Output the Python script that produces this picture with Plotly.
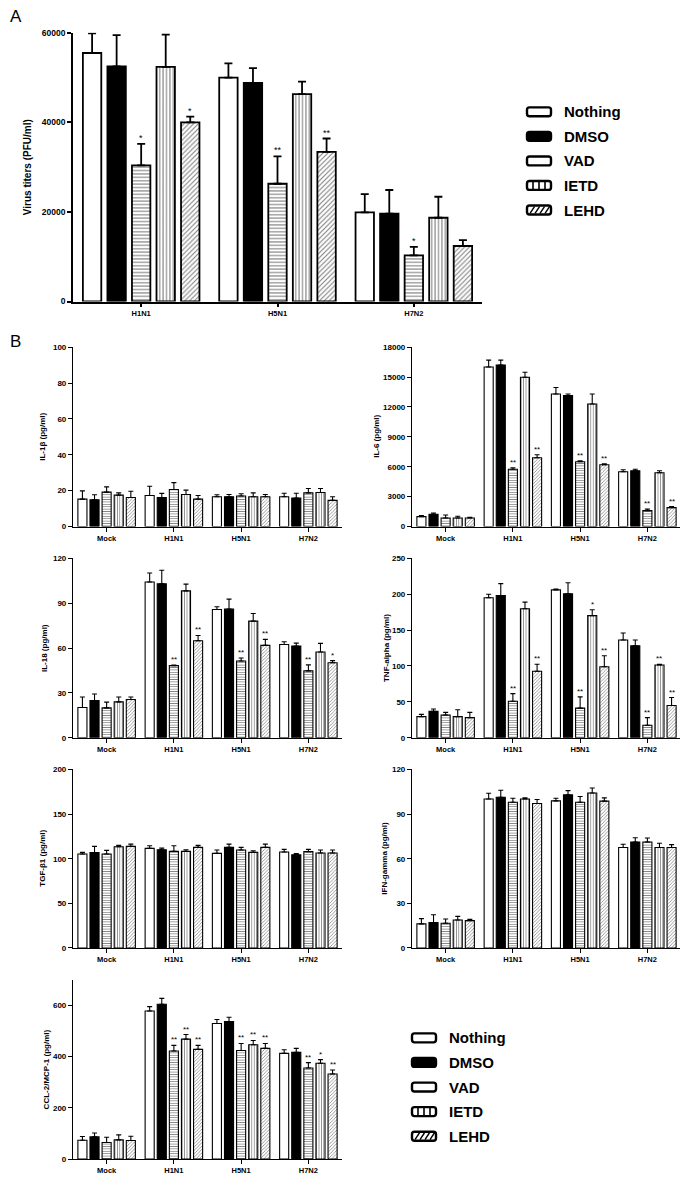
import plotly.graph_objects as go

W, H = 688, 1178          # reference canvas
OFF = 8                   # browser body margin of the rendered page
FW, FH = W - OFF, H - OFF  # figure size so that it fits the window exactly
FONT = "Liberation Sans"

treatments = ["Nothing", "DMSO", "VAD", "IETD", "LEHD"]
strains = ["H1N1", "H5N1", "H7N2"]
groups = ["Mock", "H1N1", "H5N1", "H7N2"]

# ---------- Panel A : virus titers (rows = treatments, cols = strains) ----------
titer_mean = [[55500, 50000, 19900], [52500, 48800, 19600], [30400, 26300, 10300],
              [52400, 46300, 18700], [40000, 33400, 12400]]
titer_sem = [[4400, 3200, 4100], [7000, 3300, 5300], [4800, 6100, 1900],
             [7200, 2800, 4700], [1300, 3000, 1300]]
titer_sig = [["", "", ""], ["", "", ""], ["*", "**", "*"], ["", "", ""], ["*", "**", ""]]

# ---------- Panel B (rows = treatments, cols = Mock, H1N1, H5N1, H7N2) ----------
il1b_mean = [[15.3, 17.3, 16.6, 16.6], [14.9, 16.2, 16.6, 15.9], [19.2, 20.7, 17.0, 18.8],
             [17.5, 17.9, 16.6, 19.0], [16.2, 15.3, 16.6, 14.6]]
il1b_sem = [[4.6, 5.2, 1.1, 2.0], [2.8, 2.3, 1.3, 2.7], [2.9, 3.8, 1.3, 2.4],
            [1.3, 2.4, 2.2, 2.2], [3.5, 2.0, 1.3, 2.0]]
il1b_sig = [[""] * 4] * 5

il6_mean = [[1000, 16000, 13300, 5500], [1230, 16200, 13150, 5600], [860, 5750, 6500, 1600],
            [860, 14980, 12300, 5400], [860, 6900, 6200, 1900]]
il6_sem = [[100, 700, 650, 200], [130, 500, 150, 150], [300, 150, 100, 150],
           [170, 500, 1000, 200], [70, 300, 100, 100]]
il6_sig = [["", "", "", ""], ["", "", "", ""], ["", "**", "**", "**"],
           ["", "", "", ""], ["", "**", "**", "**"]]

il18_mean = [[20.2, 104.2, 85.8, 62.4], [24.9, 102.9, 86.0, 61.3], [20.0, 48.2, 51.3, 44.7],
             [24.0, 98.2, 78.0, 57.3], [25.6, 64.9, 61.8, 50.2]]
il18_sem = [[7.1, 6.0, 1.8, 1.8], [4.4, 9.1, 6.7, 2.0], [3.8, 0.4, 2.0, 4.0],
            [3.3, 4.5, 5.1, 5.8], [1.7, 3.5, 4.0, 1.4]]
il18_sig = [["", "", "", ""], ["", "", "", ""], ["", "**", "**", "**"],
            ["", "", "", ""], ["", "**", "**", "*"]]

tnf_mean = [[29.4, 195.0, 206.0, 136.2], [36.7, 198.2, 200.5, 128.0], [31.7, 50.9, 41.3, 17.4],
            [29.4, 179.8, 170.2, 101.4], [28.0, 92.7, 99.0, 45.0]]
tnf_sem = [[3.2, 5.0, 1.3, 9.7], [3.3, 16.5, 15.5, 8.2], [3.6, 10.6, 15.6, 10.6],
           [9.6, 9.2, 8.2, 0.8], [7.3, 9.6, 15.2, 11.0]]
tnf_sig = [["", "", "", ""], ["", "", "", ""], ["", "**", "**", "**"],
           ["", "", "*", "**"], ["", "**", "**", "**"]]

tgf_mean = [[105.3, 111.6, 106.0, 107.5], [106.8, 110.0, 112.7, 104.5], [105.3, 108.2, 109.7, 107.9],
            [113.4, 108.2, 107.1, 106.4], [113.8, 112.7, 112.7, 106.4]]
tgf_sem = [[1.8, 2.9, 3.7, 3.0], [7.0, 1.9, 3.7, 1.2], [4.0, 6.3, 3.0, 2.6],
           [1.5, 1.8, 1.9, 3.3], [2.6, 2.2, 3.7, 3.3]]
tgf_sig = [[""] * 4] * 5

ifn_mean = [[16.2, 100.2, 98.9, 67.5], [17.0, 101.3, 102.9, 71.2], [16.6, 98.0, 98.0, 71.2],
            [18.8, 100.2, 104.2, 67.5], [18.4, 97.1, 98.7, 67.5]]
ifn_sem = [[3.5, 3.8, 1.8, 2.2], [5.3, 4.7, 2.9, 2.9], [2.9, 2.7, 3.8, 2.7],
           [2.4, 0.7, 3.3, 2.9], [0.8, 2.7, 2.2, 2.0]]
ifn_sig = [[""] * 4] * 5

ccl2_mean = [[73.7, 578, 529, 412.5], [86.6, 604, 536.7, 416.4], [64.7, 421.6, 424, 355.6],
             [75.0, 468, 446, 373.7], [72.4, 428, 432, 332.3]]
ccl2_sem = [[14.3, 17, 15.4, 14.2], [15.4, 23, 16.8, 15.6], [20.6, 22, 27, 20.7],
            [19.4, 18, 17, 14.3], [16.8, 15.6, 19, 15.6]]
ccl2_sig = [["", "", "", ""], ["", "", "", ""], ["", "**", "**", "**"],
            ["", "**", "**", "*"], ["", "**", "**", "**"]]

# ---------------------------------------------------------------------------
BARGAP, GROUPGAP = 0.1, 0.25
PATTERNS = {"Nothing": "", "DMSO": "", "VAD": "-", "IETD": "|", "LEHD": "/"}


def PX(p):
    return (p - OFF) / FW


def PY(p):
    return 1 - (p - OFF) / FH


fig = go.Figure()
annotations = []
shapes = []


def add_panel(idx, cats, means, sems, sigs, xpx, ypx, yrange, tickvals, title, title_x, big):
    xa = "x" if idx == 1 else f"x{idx}"
    ya = "y" if idx == 1 else f"y{idx}"
    lw = 1.8 if big else 1.1
    psize = 3.4 if big else 2.4
    for t, name in enumerate(treatments):
        color = "black" if name == "DMSO" else "white"
        marker = dict(color=color, line=dict(color="black", width=lw))
        if PATTERNS[name]:
            marker["pattern"] = dict(shape=PATTERNS[name], fgcolor="black", bgcolor="white",
                                     size=psize, solidity=0.32)
        fig.add_trace(go.Bar(
            x=cats, y=means[t], name=name, marker=marker, showlegend=False,
            error_y=dict(type="data", array=sems[t], arrayminus=[0] * len(cats), symmetric=False,
                         color="black", thickness=lw, width=4 if big else 2.5),
            xaxis=xa, yaxis=ya))
    tf = dict(family=FONT, size=8.5 if big else 8, color="black", weight="bold")
    xf = dict(family=FONT, size=7.5, color="black", weight="bold")
    lwax = 1.8 if big else 1.2
    fig.update_layout(**{
        ("xaxis" if idx == 1 else f"xaxis{idx}"): dict(
            domain=[PX(xpx[0]), PX(xpx[1])], anchor=ya, type="category",
            range=[-0.5, len(cats) - 0.5], showline=True, linecolor="black", linewidth=lwax,
            ticks="outside", ticklen=4, tickwidth=lwax, tickcolor="black", showgrid=False,
            zeroline=False, tickfont=xf, fixedrange=True),
        ("yaxis" if idx == 1 else f"yaxis{idx}"): dict(
            domain=[PY(ypx[1]), PY(ypx[0])], anchor=xa, range=yrange, tickvals=tickvals,
            tickformat="d", showline=True, linecolor="black", linewidth=lwax,
            ticks="outside", ticklen=4, tickwidth=lwax, tickcolor="black", showgrid=False,
            zeroline=False, tickfont=tf, fixedrange=True),
    })
    # y title
    annotations.append(dict(text=title, textangle=-90, xref="paper", yref="paper",
                            x=PX(title_x), y=PY((ypx[0] + ypx[1]) / 2), xanchor="center",
                            yanchor="middle", showarrow=False,
                            font=dict(family=FONT, size=10 if big else 8, color="black",
                                      weight="bold")))
    # significance marks
    catw = (xpx[1] - xpx[0]) / len(cats)
    pitch = (1 - BARGAP) * catw / len(treatments)
    for t in range(len(treatments)):
        for c, cat in enumerate(cats):
            s = sigs[t][c]
            if s:
                annotations.append(dict(text=s, xref=xa, yref=ya, x=cat,
                                        y=means[t][c] + sems[t][c], xshift=(t - 2) * pitch,
                                        yshift=-1, xanchor="center", yanchor="bottom",
                                        showarrow=False,
                                        font=dict(family=FONT, size=9 if big else 8,
                                                  color="black")))


LX = (73, 342)
RX = (412, 681)
R1, R2, R3, R4 = (345, 526), (558, 739), (771, 951), (983, 1164)

add_panel(1, strains, titer_mean, titer_sem, titer_sig, (73, 482), (28, 299), [0, 60000],
          [0, 20000, 40000, 60000], "Virus titers (PFU/ml)", 27, True)
add_panel(2, groups, il1b_mean, il1b_sem, il1b_sig, LX, R1, [0, 100], [0, 20, 40, 60, 80, 100],
          "IL-1β (pg/ml)", 43, False)
add_panel(3, groups, il6_mean, il6_sem, il6_sig, RX, R1, [0, 18000],
          [0, 3000, 6000, 9000, 12000, 15000, 18000], "IL-6 (pg/ml)", 377, False)
add_panel(4, groups, il18_mean, il18_sem, il18_sig, LX, R2, [0, 120], [0, 30, 60, 90, 120],
          "IL-18 (pg/ml)", 44, False)
add_panel(5, groups, tnf_mean, tnf_sem, tnf_sig, RX, R2, [0, 250], [0, 50, 100, 150, 200, 250],
          "TNF-alpha (pg/ml)", 386, False)
add_panel(6, groups, tgf_mean, tgf_sem, tgf_sig, LX, R3, [0, 200], [0, 50, 100, 150, 200],
          "TGF-β1 (pg/ml)", 43, False)
add_panel(7, groups, ifn_mean, ifn_sem, ifn_sig, RX, R3, [0, 120], [0, 30, 60, 90, 120],
          "IFN-gamma (pg/ml)", 385, False)
add_panel(8, groups, ccl2_mean, ccl2_sem, ccl2_sig, LX, R4, [0, 700], [0, 200, 400, 600],
          "CCL-2/MCP-1 (pg/ml)", 46, False)


# ---------- legends drawn as shapes + text ----------
def rounded_box(x0, yc, w=24, h=9, r=2.5):
    x1, y0, y1 = x0 + w, yc - h / 2, yc + h / 2
    pts = [
        f"M {PX(x0 + r)} {PY(y0)}", f"L {PX(x1 - r)} {PY(y0)}",
        f"Q {PX(x1)} {PY(y0)} {PX(x1)} {PY(y0 + r)}", f"L {PX(x1)} {PY(y1 - r)}",
        f"Q {PX(x1)} {PY(y1)} {PX(x1 - r)} {PY(y1)}", f"L {PX(x0 + r)} {PY(y1)}",
        f"Q {PX(x0)} {PY(y1)} {PX(x0)} {PY(y1 - r)}", f"L {PX(x0)} {PY(y0 + r)}",
        f"Q {PX(x0)} {PY(y0)} {PX(x0 + r)} {PY(y0)}", "Z"]
    return " ".join(pts)


def add_legend(x0, y_first, step, text_x):
    for i, name in enumerate(treatments):
        yc = y_first + i * step
        fill = "black" if name == "DMSO" else "white"
        shapes.append(dict(type="path", path=rounded_box(x0, yc), xref="paper", yref="paper",
                           fillcolor=fill, line=dict(color="black", width=2.4)))
        if name == "IETD":
            for k in (6, 12, 18):
                shapes.append(dict(type="line", xref="paper", yref="paper",
                                   x0=PX(x0 + k), x1=PX(x0 + k), y0=PY(yc - 4.5), y1=PY(yc + 4.5),
                                   line=dict(color="black", width=1.6)))
        if name == "LEHD":
            for k in range(4):
                shapes.append(dict(type="line", xref="paper", yref="paper",
                                   x0=PX(x0 + 3 + k * 5), x1=PX(x0 + 7.5 + k * 5),
                                   y0=PY(yc + 3.5), y1=PY(yc - 3.5),
                                   line=dict(color="black", width=1.4)))
        annotations.append(dict(text=name, xref="paper", yref="paper", x=PX(text_x), y=PY(yc),
                                xanchor="left", yanchor="middle", showarrow=False,
                                font=dict(family=FONT, size=15, color="black", weight="bold")))


add_legend(527, 107.7, 24.75, 562)
add_legend(412, 1041.7, 24.8, 447)

# panel letters (the page cannot draw left of its body margin)
annotations.append(dict(text="A", xref="paper", yref="paper", x=PX(OFF), y=PY(12), xanchor="left",
                        yanchor="middle", showarrow=False,
                        font=dict(family=FONT, size=17, color="black")))
annotations.append(dict(text="B", xref="paper", yref="paper", x=PX(OFF), y=PY(339), xanchor="left",
                        yanchor="middle", showarrow=False,
                        font=dict(family=FONT, size=17, color="black")))

fig.update_layout(
    width=FW, height=FH, autosize=False, margin=dict(l=0, r=0, t=0, b=0),
    paper_bgcolor="white", plot_bgcolor="white", barmode="group",
    bargap=BARGAP, bargroupgap=GROUPGAP, showlegend=False,
    annotations=annotations, shapes=shapes,
    font=dict(family=FONT, color="black"),
)

fig.write_html("out.html")
